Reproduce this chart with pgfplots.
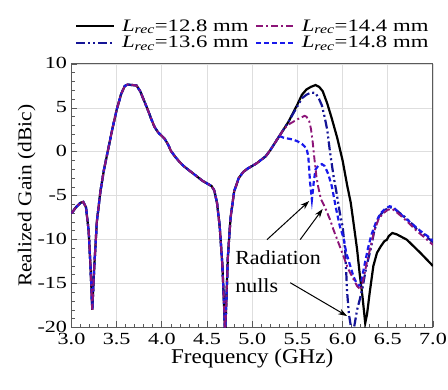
\documentclass[border=0pt]{standalone}
\usepackage{fontspec}
\setmainfont{Liberation Serif}[FakeStretch=1.3]
\newfontfamily\labelfont{Liberation Serif}[FakeStretch=1.1]
\usepackage{pgfplots}
\pgfplotsset{compat=1.18}
\usetikzlibrary{arrows.meta}
\definecolor{cpurple}{RGB}{140,20,120}
\definecolor{cdblue}{RGB}{20,20,150}
\definecolor{cblue}{RGB}{25,25,235}
\definecolor{cgrid}{RGB}{222,222,222}
\definecolor{caxis}{RGB}{90,90,90}
\pgfplotstableread{
f g
3.00 -7.0
3.05 -6.3
3.10 -5.8
3.13 -5.7
3.16 -6.3
3.19 -9.0
3.21 -13
3.23 -18.0
3.25 -13.5
3.28 -8.0
3.32 -4.5
3.36 -2.0
3.39 -0.5
3.45 2.5
3.50 4.8
3.55 6.6
3.59 7.5
3.62 7.65
3.68 7.6
3.72 7.55
3.76 6.9
3.80 5.9
3.84 4.9
3.88 3.8
3.92 2.8
3.96 2.2
4.00 1.8
4.03 1.5
4.07 0.8
4.10 0.1
4.15 -0.6
4.20 -1.2
4.25 -1.7
4.30 -2.1
4.35 -2.5
4.40 -2.9
4.45 -3.3
4.50 -3.6
4.55 -3.9
4.58 -4.4
4.61 -5.8
4.64 -8.5
4.67 -13
4.69 -18
4.70 -21
4.71 -18
4.73 -12
4.76 -7.5
4.80 -4.5
4.85 -3.0
4.90 -2.3
4.95 -1.9
5.00 -1.6
5.05 -1.3
5.10 -0.9
5.15 -0.5
5.20 0.2
5.25 1.0
5.30 1.8
}\common
\pgfplotstableread{
f g
5.30 1.8
5.35 2.6
5.40 3.4
5.45 4.4
5.50 5.4
5.55 6.5
5.60 7.1
5.65 7.4
5.70 7.6
5.74 7.4
5.78 6.9
5.83 5.5
5.88 3.8
5.94 1.6
6.00 -1.0
6.05 -3.8
6.09 -5.8
6.13 -8.8
6.16 -11.1
6.19 -14
6.22 -16.5
6.25 -19.5
6.27 -18.5
6.30 -16
6.34 -13
6.38 -11.5
6.42 -10.8
6.46 -10.2
6.49 -10.0
6.51 -9.6
6.55 -9.24
6.60 -9.4
6.71 -10.0
6.86 -11.5
7.00 -13.0
}\blackA
\pgfplotstableread{
f g
5.30 1.8
5.35 2.6
5.40 3.4
5.45 4.3
5.50 5.2
5.55 6.1
5.60 6.5
5.65 6.75
5.70 6.7
5.74 6.0
5.77 5.3
5.80 4.0
5.83 2.5
5.86 0.0
5.90 -2.8
5.93 -4.5
5.97 -7.0
6.00 -8.5
6.03 -11.5
6.05 -16.0
6.07 -18.5
6.09 -19.8
6.11 -20.5
6.13 -19.8
6.16 -18.0
6.19 -16.8
6.22 -15.5
6.26 -13.2
6.31 -11.1
6.35 -9.0
6.40 -7.4
6.45 -6.8
6.50 -6.4
6.55 -6.3
6.60 -6.7
6.68 -7.35
6.75 -8.0
6.82 -8.8
6.90 -9.4
7.00 -10.3
}\dblueA
\pgfplotstableread{
f g
5.30 1.8
5.35 2.6
5.40 3.1
5.45 3.4
5.50 3.7
5.55 3.95
5.58 4.1
5.60 4.0
5.63 3.5
5.65 2.6
5.67 1.0
5.69 -1.0
5.71 -2.8
5.73 -4.0
5.76 -5.4
5.80 -6.2
5.86 -7.7
5.90 -8.9
5.97 -10.8
6.01 -11.9
6.06 -13.3
6.12 -14.5
6.16 -15.3
6.20 -15.7
6.23 -14.5
6.27 -12.5
6.31 -10.8
6.35 -9.0
6.40 -7.6
6.45 -7.0
6.50 -6.6
6.55 -6.5
6.60 -6.9
6.68 -7.6
6.75 -8.3
6.82 -9.0
6.90 -9.7
7.00 -10.6
}\purpleA
\pgfplotstableread{
f g
5.30 1.8
5.35 1.6
5.40 1.5
5.45 1.4
5.50 1.2
5.55 0.9
5.60 0.4
5.62 -0.5
5.63 -2.0
5.64 -3.5
5.66 -5.45
5.68 -3.5
5.70 -2.0
5.73 -1.6
5.77 -1.4
5.80 -1.6
5.84 -2.5
5.88 -3.9
5.93 -6.6
5.97 -8.5
6.01 -9.8
6.04 -11.5
6.07 -12.5
6.12 -14.2
6.17 -15.3
6.20 -15.1
6.24 -13.0
6.28 -11.0
6.32 -9.4
6.37 -8.0
6.42 -7.0
6.47 -6.5
6.52 -6.2
6.56 -6.3
6.62 -6.9
6.70 -7.6
6.78 -8.3
6.86 -9.0
6.94 -9.6
7.00 -10.1
}\blueA
\begin{document}
\begin{tikzpicture}
\useasboundingbox (-71.5pt,-62.5pt) rectangle (376.5pt,327.5pt);
\begin{axis}[
  at={(0,0)}, anchor=south west,
  scale only axis, width=361.5pt, height=263.5pt,
  xmin=3, xmax=7, ymin=-20, ymax=10,
  xtick={3,3.5,...,7}, xticklabels={3.0,3.5,4.0,4.5,5.0,5.5,6.0,6.5,7.0},
  ytick={-20,-15,...,10}, yticklabels={-20,-15,-10,-5,0,5,10},
  minor x tick num=4, minor y tick num=4,
  xtick pos=bottom, ytick pos=left,
  tick align=inside,
  major tick length=6pt, minor tick length=3.5pt,
  every tick/.style={caxis, line width=0.8pt},
  grid=major, major grid style={cgrid, line width=0.8pt},
  axis line style={caxis, line width=1pt},
  tick label style={font=\fontsize{17}{17}\selectfont, black},
  xticklabel style={yshift=-2.5pt},
  yticklabel style={xshift=-1pt, yshift=1pt},
  xlabel={Frequency (GHz)}, ylabel={Realized Gain (dBic)},
  xlabel style={font=\labelfont\fontsize{21}{21}\selectfont, yshift=3pt},
  ylabel style={font=\labelfont\fontsize{19.5}{19.5}\selectfont, yshift=-5pt},
  legend columns=2,
  legend cell align=left,
  legend style={draw=none, fill=none, at={(0.01,1.0)}, anchor=south west, yshift=13pt,
    font=\fontsize{17.5}{17.5}\selectfont, column sep=5pt, row sep=0.5pt, inner sep=0pt,
    nodes={inner sep=1.5pt}},
  legend image code/.code={\draw[#1] (0pt,0pt) -- (38pt,0pt);},
]
% black
\addplot[black, line width=2.2pt, forget plot] table[x=f,y=g] {\common};
\addplot[black, line width=2.2pt, forget plot] table[x=f,y=g] {\blackA};
% 13.6 dark blue
\addplot[cdblue, line width=2.2pt, dash pattern=on 9pt off 3pt on 2pt off 3pt on 2pt off 3pt, forget plot] table[x=f,y=g] {\common};
\addplot[cdblue, line width=2.2pt, dash pattern=on 9pt off 3pt on 2pt off 3pt on 2pt off 3pt, forget plot] table[x=f,y=g] {\dblueA};
% 14.8 blue
\addplot[cblue, line width=2.2pt, dash pattern=on 5pt off 3pt, forget plot] table[x=f,y=g] {\common};
\addplot[cblue, line width=2.2pt, dash pattern=on 5pt off 3pt, forget plot] table[x=f,y=g] {\blueA};
% 14.4 purple
\addplot[cpurple, line width=1.9pt, dash pattern=on 7pt off 3pt on 2pt off 3pt, forget plot] table[x=f,y=g] {\common};
\addplot[cpurple, line width=1.9pt, dash pattern=on 7pt off 3pt on 2pt off 3pt, forget plot] table[x=f,y=g] {\purpleA};

\addlegendimage{black, line width=2.2pt}
\addlegendentry{\textit{L}\textsubscript{\textit{rec}}=12.8 mm}
\addlegendimage{cpurple, line width=1.9pt, dash pattern=on 7pt off 3pt on 2pt off 3pt}
\addlegendentry{\textit{L}\textsubscript{\textit{rec}}=14.4 mm}
\addlegendimage{cdblue, line width=2.2pt, dash pattern=on 9pt off 3pt on 2pt off 3pt on 2pt off 3pt}
\addlegendentry{\textit{L}\textsubscript{\textit{rec}}=13.6 mm}
\addlegendimage{cblue, line width=2.2pt, dash pattern=on 5pt off 3pt}
\addlegendentry{\textit{L}\textsubscript{\textit{rec}}=14.8 mm}

\draw[black, line width=1pt, -{Stealth[length=9pt,width=6pt]}] (axis cs:5.163,-10.0) -- (axis cs:5.63,-5.6);
\draw[black, line width=1pt, -{Stealth[length=9pt,width=6pt]}] (axis cs:5.53,-10.0) -- (axis cs:5.78,-6.5);
\draw[black, line width=1pt, -{Stealth[length=9pt,width=6pt]}] (axis cs:5.42,-14.9) -- (axis cs:6.05,-18.7);
\node[anchor=base west, inner sep=0pt, font=\labelfont\fontsize{20}{20}\selectfont] at (axis cs:4.81,-12.84) {Radiation};
\node[anchor=base west, inner sep=0pt, font=\labelfont\fontsize{20}{20}\selectfont] at (axis cs:4.81,-16.0) {nulls};
\end{axis}
\end{tikzpicture}
\end{document}
